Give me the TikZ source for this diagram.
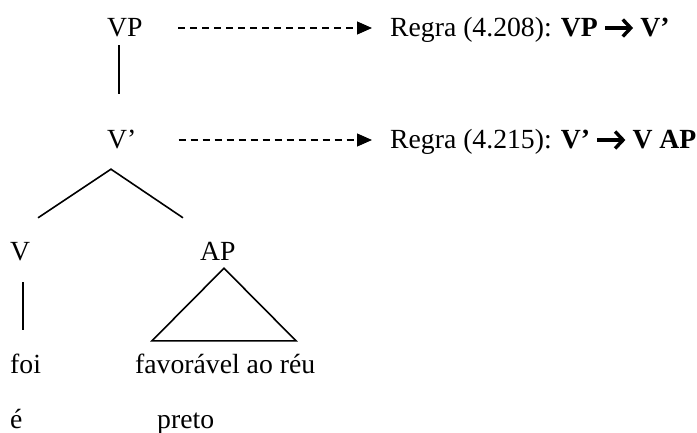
\documentclass[tikz,border=0pt]{standalone}
\usepackage{fontspec}
\setmainfont{Liberation Serif}
\usepackage{tikz}
\usetikzlibrary{arrows.meta, positioning}

% seta grossa das regras
\newcommand{\setaregra}{\hspace{5.5pt}\tikz[baseline=-8pt]\draw[line width=3.4pt, line join=miter, -{Straight Barb[length=8pt, width=17pt]}] (0pt,0pt) -- (28pt,0pt);\hspace{5.5pt}}

\begin{document}
\begin{tikzpicture}[x=1pt, y=1pt,
    rotulo/.style={anchor=base west, inner sep=0pt, text height=19pt, text depth=6pt, font=\fontsize{27.7}{33}\selectfont},
    galho/.style={line width=1.6pt},
    regra/.style={dash pattern=on 7pt off 5pt, line width=1.2pt, -{Triangle[length=15pt, width=13pt]}}]
    \useasboundingbox (0,0) rectangle (697,-432);

    % Nós da árvore
    \node[rotulo] (vp) at (107,-36) {VP};
    \node[rotulo] (vbar) at (107,-148) {V’};
    \node[rotulo] (v) at (10,-260) {V};
    \node[rotulo] (ap) at (200,-260) {AP};
    \node[rotulo] (foi) at (10,-373) {foi};
    \node[rotulo] (fav) at (135,-373) {favorável ao réu};
    \node[rotulo] (e) at (10,-428) {é};
    \node[rotulo] (preto) at (157,-428) {preto};

    % Regras
    \node[rotulo] (regra1) at (390,-36) {Regra (4.208): \textbf{VP\setaregra V’}};
    \node[rotulo] (regra2) at (390,-148) {Regra (4.215): \textbf{V’\setaregra V AP}};

    % Galhos
    \draw[galho, shorten <=3pt, shorten >=35pt] ([xshift=12pt]vp.south west) -- ([xshift=12pt]vbar.north west);
    \coordinate (bifurca) at ([xshift=4pt,yshift=-15pt]vbar.south west);
    \coordinate (v-ponta) at ([xshift=28pt,yshift=23pt]v.north west);
    \coordinate (ap-ponta) at ([xshift=-17pt,yshift=23pt]ap.north west);
    \draw[galho] (v-ponta) -- (bifurca) -- (ap-ponta);
    \draw[galho, shorten <=16pt, shorten >=24pt] ([xshift=13pt]v.south west) -- ([xshift=13pt]foi.north west);

    % Triângulo do AP
    \draw[galho] ([xshift=24pt,yshift=-2pt]ap.south west) -- ([xshift=17pt,yshift=13pt]fav.north west)
        -- ([xshift=161pt,yshift=13pt]fav.north west) -- cycle;

    % Setas tracejadas
    \draw[regra] ([xshift=35.5pt,yshift=8pt]vp.base east) -- ([xshift=-18pt,yshift=8pt]regra1.base west);
    \draw[regra] ([xshift=42pt,yshift=8pt]vbar.base east) -- ([xshift=-18pt,yshift=8pt]regra2.base west);
\end{tikzpicture}
\end{document}
